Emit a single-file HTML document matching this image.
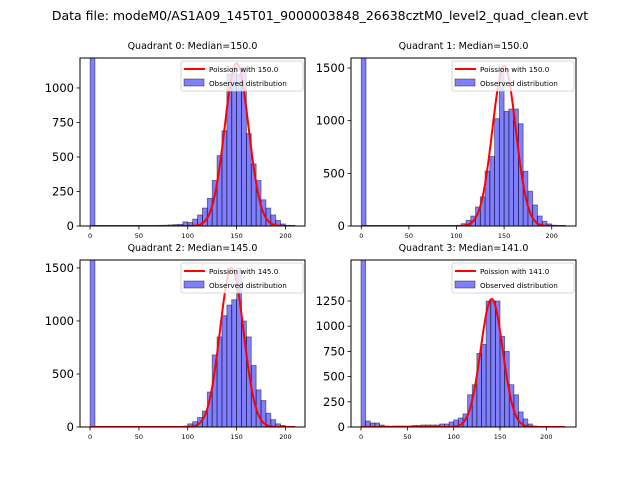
<!DOCTYPE html>
<html><head><meta charset="utf-8"><style>
html,body{margin:0;padding:0;background:#fff;width:640px;height:480px;overflow:hidden}
svg{display:block;font-family:"DejaVu Sans","Liberation Sans",sans-serif}
</style></head><body>
<svg id="chart" width="640" height="480" viewBox="0 0 640 480">
<text x="320" y="20" font-size="12.5" text-anchor="middle">Data file: modeM0/AS1A09_145T01_9000003848_26638cztM0_level2_quad_clean.evt</text>
</svg>
<script>
const binWidth = 5;
const q0Counts = [5000,2,2,2,2,2,2,2,2,2,2,3,3,4,5,6,8,10,12,30,25,50,80,130,200,330,510,690,1100,1150,1100,1150,670,450,330,190,130,80,40,15,5];
const q1Counts = [5000,1,1,1,1,1,1,1,1,1,1,1,1,1,1,1,1,2,3,5,5,22,54,95,180,277,522,660,1019,1500,1089,1111,1111,971,520,330,200,95,45,20,8,5];
const q2Counts = [5000,1,1,1,1,1,1,1,1,1,1,1,1,1,1,1,1,2,3,8,30,50,90,150,330,680,850,1050,1150,1200,1500,1000,850,580,350,250,130,70,30,15,5];
const q3Counts = [5000,60,40,40,20,10,8,10,10,10,10,15,15,20,20,20,20,30,30,50,70,90,130,320,420,730,820,1250,1250,1250,900,750,420,320,150,80,30,10,5,2,1,1];
const medians = [150.0,150.0,145.0,141.0];
const peaks = [1180,1520,1500,1270];
const titles = ["Quadrant 0: Median=150.0","Quadrant 1: Median=150.0","Quadrant 2: Median=145.0","Quadrant 3: Median=141.0"];
const xTicks = [0,50,100,150,200];
const yTicks0 = [0,250,500,750,1000];
const yTicks1 = [0,500,1000,1500];
const yTicks2 = [0,500,1000,1500];
const yTicks3 = [0,250,500,750,1000,1250];
const curveEnd = [210,215,210,220];

const NS="http://www.w3.org/2000/svg";
const svg=document.getElementById('chart');
function mk(tag,attrs,parent){const e=document.createElementNS(NS,tag);for(const k in attrs)e.setAttribute(k,attrs[k]);(parent||svg).appendChild(e);return e;}

const panels=[
 {counts:q0Counts,yt:yTicks0,L:80,T:58,W:225,H:168,xmin:-10.3,xmax:220,ymax:1217},
 {counts:q1Counts,yt:yTicks1,L:351,T:58,W:225,H:168,xmin:-10.8,xmax:225.5,ymax:1595},
 {counts:q2Counts,yt:yTicks2,L:80,T:260,W:225,H:167,xmin:-10.3,xmax:220,ymax:1575},
 {counts:q3Counts,yt:yTicks3,L:351,T:260,W:225,H:167,xmin:-10.8,xmax:232,ymax:1657}
];

panels.forEach((p,i)=>{
  const g=mk('g',{});
  
  
  const sx=v=>p.L+(v-p.xmin)/(p.xmax-p.xmin)*p.W;
  const sy=v=>p.T+p.H-Math.min(v,p.ymax*1.05)/p.ymax*p.H;
  const clipId='clip'+i;
  const cp=mk('clipPath',{id:clipId},g);
  mk('rect',{x:p.L,y:p.T,width:p.W,height:p.H},cp);
  const bars=mk('g',{'clip-path':'url(#'+clipId+')'},g);
  p.counts.forEach((c,j)=>{
    const x0=sx(j*binWidth), x1=sx((j+1)*binWidth);
    const r=mk('rect',{x:x0,y:sy(c),width:x1-x0,height:sy(0)-sy(c),fill:'rgba(0,0,255,0.5)',stroke:'rgba(0,0,0,0.5)','stroke-width':0.8},bars);
    
    
  });
  const lam=medians[i];let d='';
  for(let x=0;x<=curveEnd[i];x+=1){const y=peaks[i]*Math.exp(-(x-lam)*(x-lam)/(2*lam));d+=(x?'L':'M')+sx(x).toFixed(1)+','+sy(y).toFixed(1);}
  const pl=mk('path',{d:d,fill:'none',stroke:'#ff0000','stroke-width':2},bars);
  
  
  const fr=mk('rect',{x:p.L,y:p.T,width:p.W,height:p.H,fill:'none',stroke:'#000','stroke-width':1},g);
  
  
  xTicks.forEach(t=>{
    const x=sx(t);
    mk('line',{x1:x,x2:x,y1:p.T+p.H,y2:p.T+p.H+3.5,stroke:'#000','stroke-width':0.8},g);
    const tx=mk('text',{x:x,y:p.T+p.H+12,'font-size':6.5,'text-anchor':'middle'},g);
    tx.textContent=t;
    
    
  });
  p.yt.forEach(t=>{
    const y=sy(t);
    mk('line',{x1:p.L-3.5,x2:p.L,y1:y,y2:y,stroke:'#000','stroke-width':0.8},g);
    const tx=mk('text',{x:p.L-6,y:y+4,'font-size':11.5,'text-anchor':'end'},g);
    tx.textContent=t;
    
    
  });
  const tt=mk('text',{x:p.L+p.W/2,y:p.T-9,'font-size':9.5,'text-anchor':'middle'},g);
  tt.textContent=titles[i];
  
  
  const lg=mk('g',{},g);
  
  
  const lw=122, lx=p.L+p.W-lw-2, ly=p.T+3;
  mk('rect',{x:lx,y:ly,width:lw,height:30,fill:'rgba(255,255,255,0.8)',stroke:'#ccc','stroke-width':0.8,rx:2},lg);
  mk('line',{x1:lx+3,x2:lx+24,y1:ly+8,y2:ly+8,stroke:'#ff0000','stroke-width':2},lg);
  const t1=mk('text',{x:lx+28,y:ly+11,'font-size':7.2},lg);
  t1.textContent='Poission with '+medians[i].toFixed(1);
  
  
  mk('rect',{x:lx+3,y:ly+18,width:20,height:7,fill:'rgba(0,0,255,0.5)',stroke:'rgba(0,0,0,0.5)','stroke-width':0.8},lg);
  const t2=mk('text',{x:lx+28,y:ly+25,'font-size':7.2},lg);
  t2.textContent='Observed distribution';
  
  
});
</script>
</body></html>
